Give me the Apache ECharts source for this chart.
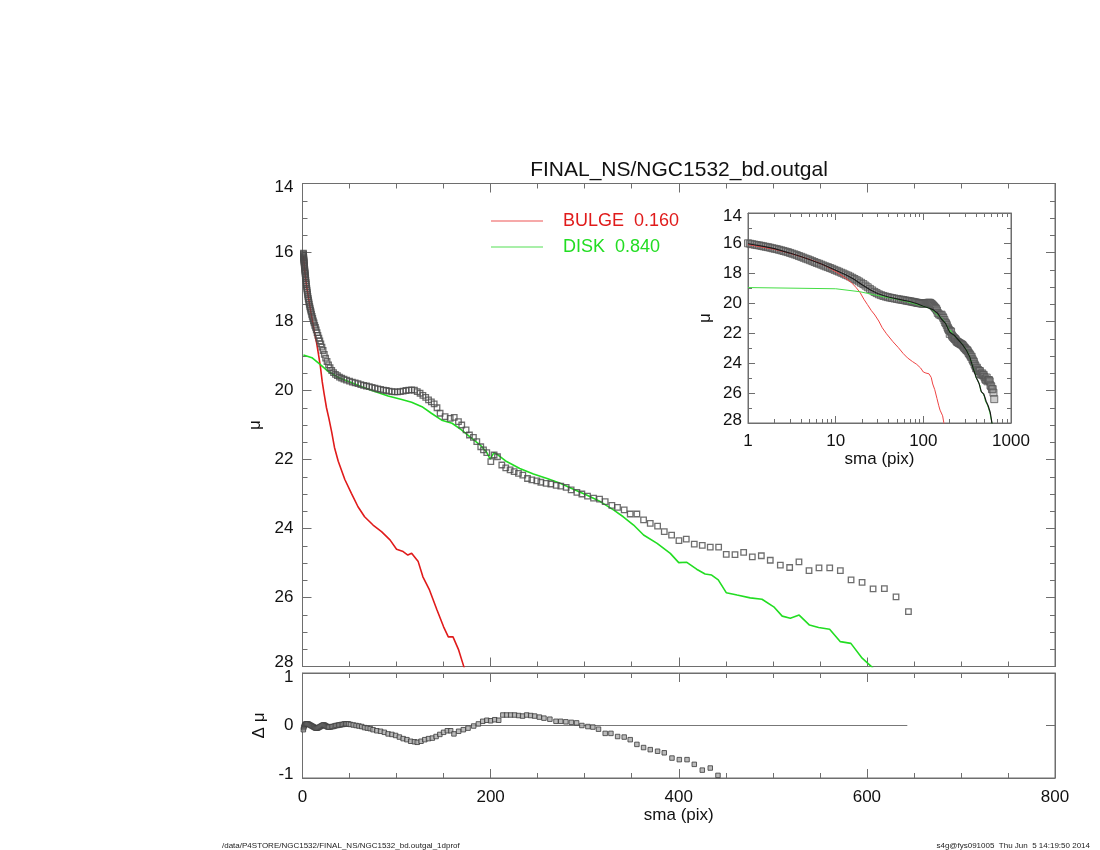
<!DOCTYPE html>
<html>
<head>
<meta charset="utf-8">
<title>NGC1532_bd.outgal</title>
<script src="https://cdn.jsdelivr.net/npm/echarts@6.0.0/dist/echarts.min.js"></script>
<style>
  html, body { margin: 0; padding: 0; background: #fff; }
  #chart { width: 1100px; height: 850px; }
</style>
</head>
<body>
<div id="chart"></div>
<script>
// observed surface brightness profile (sma in pix, mu)
const obsSma = [1.00, 1.06, 1.12, 1.19, 1.26, 1.34, 1.42, 1.50, 1.59, 1.69, 1.79, 1.90, 2.01, 2.13, 2.26, 2.40, 2.54, 2.69, 2.85, 3.02,
  3.20, 3.40, 3.60, 3.82, 4.05, 4.29, 4.55, 4.82, 5.11, 5.42, 5.74, 6.09, 6.45, 6.84, 7.25, 7.69, 8.15, 8.64, 9.15, 9.70,
  10.3, 10.9, 11.6, 12.3, 13.0, 13.8, 14.6, 15.5, 16.4, 17.4, 18.4, 19.5, 20.7, 21.9, 23.2, 24.6, 26.1, 27.7, 29.3, 31.1,
  33.0, 35.0, 37.1, 39.3, 41.6, 44.1, 46.8, 50, 53, 56, 59, 62, 65, 68, 71, 74, 77, 80, 83, 86,
  89, 92, 95, 98, 101, 104, 107, 110, 113, 116, 119, 122, 125, 128, 131, 134, 137, 140, 143,
  146.3, 151.6, 157, 161.3, 165.8, 169.3, 173.9, 177.5, 181.7, 185.3, 189.5, 192.4, 195.9, 200.2, 203.7,
  207.3, 211.9, 216.1, 220.7, 225, 229.6, 234.2, 239.2, 243.8, 249.1, 253.4, 259, 264, 269.7, 274.6, 280.3,
  285.6, 291.7, 297, 303, 309.4, 315.8, 321.8, 328.9, 334.9, 342, 348.4, 355.5, 362.6, 369.7, 377.5, 384.6,
  392.4, 400.2, 408, 416.5, 425, 433.5, 442.4, 450.5, 459.8, 469, 478.2, 487.8, 497.3, 508, 517.9, 527.8,
  538.5, 549.1, 560.5, 571.8, 583.2, 594.9, 606.6, 618.6, 631, 644.2];
const obsMu = [16.02, 16.05, 16.08, 16.11, 16.14, 16.16, 16.19, 16.22, 16.25, 16.28, 16.31, 16.35, 16.38, 16.41, 16.45, 16.49, 16.53, 16.57, 16.61, 16.66,
  16.71, 16.76, 16.81, 16.87, 16.92, 16.98, 17.04, 17.09, 17.15, 17.21, 17.27, 17.33, 17.38, 17.44, 17.5, 17.56, 17.61, 17.67, 17.72, 17.79,
  17.85, 17.91, 17.98, 18.04, 18.11, 18.17, 18.24, 18.32, 18.4, 18.48, 18.56, 18.65, 18.74, 18.84, 18.95, 19.06, 19.16, 19.26, 19.34, 19.42,
  19.48, 19.53, 19.57, 19.61, 19.64, 19.67, 19.7, 19.73, 19.76, 19.78, 19.8, 19.83, 19.85, 19.87, 19.89, 19.91, 19.93, 19.95, 19.97, 19.99,
  20.0, 20.02, 20.03, 20.04, 20.04, 20.03, 20.02, 20.0, 19.99, 19.98, 19.99, 20.03, 20.08, 20.14, 20.2, 20.27, 20.33, 20.39, 20.5,
  20.66, 20.76, 20.81, 20.78, 20.9, 21.0, 21.14, 21.29, 21.36, 21.48, 21.63, 21.72, 21.8, 22.06, 21.87,
  21.92, 22.16, 22.24, 22.3, 22.35, 22.4, 22.45, 22.55, 22.59, 22.62, 22.66, 22.69, 22.71, 22.75, 22.77, 22.81,
  22.88, 22.95, 23.0, 23.06, 23.12, 23.15, 23.22, 23.33, 23.39, 23.46, 23.58, 23.58, 23.75, 23.85, 23.93, 24.09,
  24.19, 24.35, 24.31, 24.45, 24.49, 24.54, 24.54, 24.75, 24.76, 24.69, 24.82, 24.79, 24.92, 25.06, 25.13, 24.97,
  25.22, 25.14, 25.14, 25.22, 25.49, 25.56, 25.75, 25.74, 25.98, 26.41];

// bulge component
const bulgeSma = [1, 2, 3, 4.5, 6, 7.5, 9, 11, 13, 15, 17, 19, 21, 23, 25.5, 28, 31, 34, 38, 45,
  52, 59, 66, 75, 84, 93, 100, 107, 112, 116, 123, 128, 135, 143, 150, 155, 160, 166, 171, 175];
const bulgeMu = [16.1, 16.42, 16.68, 17.0, 17.25, 17.5, 17.75, 18.05, 18.35, 18.62, 18.95, 19.3, 19.75, 20.1, 20.5, 20.8, 21.2, 21.65, 22.05, 22.58,
  22.98, 23.37, 23.66, 23.9, 24.09, 24.33, 24.6, 24.67, 24.77, 24.72, 24.96, 25.4, 25.78, 26.36, 26.85, 27.14, 27.14, 27.52, 27.96, 28.3];

// disk component
const diskSma = [1, 10, 19, 27.5, 38, 49, 63, 77, 91, 105.5, 116, 127, 137, 148, 159, 169, 180, 189, 196, 199.5,
  203.5, 208, 217, 231, 245.5, 260, 274, 288, 302, 316.5, 330.6, 341, 352, 362.6, 377, 391, 400, 408.6, 419, 428,
  435, 442, 450.5, 462, 476, 488.5, 501, 510, 518.6, 528, 539, 548.7, 560.4, 571.8, 583, 595, 604, 610];
const diskMu = [18.97, 19.05, 19.25, 19.45, 19.62, 19.74, 19.89, 20.03, 20.16, 20.26, 20.34, 20.47, 20.66, 20.86, 20.95, 21.14, 21.39, 21.58, 21.8, 21.99,
  21.8, 21.87, 22.06, 22.26, 22.42, 22.55, 22.69, 22.86, 23.03, 23.22, 23.46, 23.66, 23.9, 24.19, 24.43, 24.72, 24.99, 24.98, 25.18, 25.32,
  25.35, 25.49, 25.86, 25.93, 26.01, 26.05, 26.27, 26.54, 26.6, 26.51, 26.8, 26.87, 26.92, 27.28, 27.33, 27.76, 27.98, 28.15];

// total model (inset)
const modelSma = [1, 1.5, 2, 3, 4, 5, 7, 10, 13, 16, 20, 25, 30, 35, 40, 50, 60, 70, 85, 100,
  115, 130, 145, 160, 180, 200, 225, 250, 280, 310, 340, 370, 400, 430, 460, 490, 520, 550, 580, 610];
const modelMu = [16.05, 16.22, 16.38, 16.67, 16.9, 17.1, 17.42, 17.82, 18.12, 18.4, 18.78, 19.13, 19.37, 19.5, 19.6, 19.72, 19.82, 19.9, 20.05, 20.22,
  20.33, 20.46, 20.68, 21.05, 21.38, 21.95, 22.15, 22.45, 22.78, 23.15, 23.62, 24.35, 24.95, 25.33, 25.92, 26.08, 26.55, 26.87, 27.3, 28.1];

// residuals obs - model
const residSma = [0.9, 1.3, 1.8, 2.4, 3.0, 3.6, 4.3, 5.1, 6.0, 7.0, 8.0, 9.0, 10, 11, 12, 13, 14, 15, 16, 17,
  18, 19, 20, 21, 22, 23, 24, 25, 26, 27, 28, 29.5, 31, 32.5, 34, 35.5, 37, 38.5, 40, 41.5,
  43, 44.5, 46, 47.5, 49, 51, 54, 57, 60, 63, 66, 69, 72, 75, 79, 83, 87, 91, 95, 99,
  103, 107, 111, 115, 119, 122, 126, 130, 134, 138, 142, 146, 150, 154, 157.5, 161, 166, 171, 176, 182,
  187, 191.6, 196, 200, 204.4, 208.6, 213, 217, 221.3, 225.5, 229.8, 234, 238.3, 242.6, 246.8, 251.8, 256.7, 263, 269.5, 274.5,
  280, 285.8, 291.4, 297, 303.4, 308.7, 314.7, 321.8, 327.9, 335, 342, 348.4, 355.5, 362.6, 369.7, 377.5, 384.6, 392.8, 400.6, 408.8,
  416.5, 425, 433.5, 441.7];
const residDmu = [-0.08, -0.04, -0.01, 0.01, 0.02, 0.03, 0.03, 0.03, 0.03, 0.02, 0.01, 0.0, -0.01, -0.02, -0.03, -0.04, -0.05, -0.05, -0.05, -0.04,
  -0.03, -0.02, -0.01, 0.0, 0.01, 0.01, 0.0, -0.01, -0.02, -0.03, -0.03, -0.03, -0.02, -0.02, -0.01, 0.0, 0.0, 0.01, 0.01, 0.02,
  0.02, 0.03, 0.03, 0.03, 0.03, 0.02, 0.01, 0.0, -0.01, -0.02, -0.04, -0.05, -0.06, -0.08, -0.1, -0.11, -0.13, -0.16, -0.17, -0.19,
  -0.22, -0.25, -0.27, -0.3, -0.31, -0.32, -0.3, -0.27, -0.25, -0.24, -0.21, -0.17, -0.13, -0.1, -0.1, -0.16, -0.11, -0.08, -0.05, -0.01,
  0.03, 0.08, 0.1, 0.09, 0.11, 0.1, 0.2, 0.2, 0.2, 0.2, 0.19, 0.18, 0.2, 0.19, 0.18, 0.16, 0.14, 0.12, 0.08, 0.08,
  0.07, 0.06, 0.05, 0.0, -0.02, -0.03, -0.07, -0.15, -0.15, -0.21, -0.22, -0.27, -0.36, -0.42, -0.46, -0.49, -0.52, -0.62, -0.65, -0.65,
  -0.74, -0.85, -0.81, -0.95];

// zero reference line of the residual panel
const zeroSma = [0, 643];
const zeroDmu = [0, 0];

// inset log-axis ticks
const logMajor = [1, 10, 100, 1000];
const logMinor = [2, 3, 4, 5, 6, 7, 8, 9, 20, 30, 40, 50, 60, 70, 80, 90, 200, 300, 400, 500, 600, 700, 800, 900];

const bulgeName = 'BULGE  0.160';
const diskName = 'DISK  0.840';

const FONT = '"Liberation Sans", Arial, Helvetica, sans-serif';
const AXIS_COLOR = '#6e6e6e';
const RED = '#e01b1b';
const GREEN = '#22dd22';

function zip(xs, ys) {
  return xs.map((x, i) => [x, ys[i]]);
}

function boxAxis(extra) {
  // plain IDL-like axis: inside ticks, no split lines
  let base = {
    axisLine: { show: true, onZero: false, lineStyle: { color: AXIS_COLOR, width: 1 } },
    axisTick: { show: true, inside: true, length: 9, lineStyle: { color: AXIS_COLOR } },
    minorTick: { show: false },
    axisLabel: { show: false },
    splitLine: { show: false },
    nameTextStyle: { fontFamily: FONT, fontSize: 17, color: '#111' }
  };
  for (let key in extra) {
    if (typeof extra[key] === 'object' && !Array.isArray(extra[key]) && base[key]) {
      base[key] = Object.assign({}, base[key], extra[key]);
    } else {
      base[key] = extra[key];
    }
  }
  return base;
}

// end labels of a y axis are nudged inside the box, like IDL does
function endLabels(lo, hi, size, shift) {
  return {
    show: true, fontFamily: FONT, fontSize: size, color: '#111',
    formatter: (v) => {
      if (v === lo) return '{lo|' + v + '}';
      if (v === hi) return '{hi|' + v + '}';
      return String(v);
    },
    rich: {
      lo: { fontFamily: FONT, fontSize: size, color: '#111', padding: [shift * 2, 0, 0, 0] },
      hi: { fontFamily: FONT, fontSize: size, color: '#111', padding: [0, 0, shift * 2, 0] }
    }
  };
}

const labelStyle = { show: true, fontFamily: FONT, fontSize: 17, color: '#111' };

let chart = echarts.init(document.getElementById('chart'), null, { renderer: 'canvas' });

let option = {
  animation: false,
  backgroundColor: '#fff',
  textStyle: { fontFamily: FONT },
  grid: [
    { left: 302.5, top: 183.5, width: 752.5, height: 483, show: true, borderColor: AXIS_COLOR, borderWidth: 1, containLabel: false },
    { left: 302.5, top: 673, width: 752.5, height: 105, show: true, borderColor: AXIS_COLOR, borderWidth: 1, containLabel: false },
    { left: 748, top: 213, width: 263, height: 210, show: true, borderColor: AXIS_COLOR, borderWidth: 1, backgroundColor: '#fff', containLabel: false }
  ],
  legend: {
    orient: 'vertical',
    left: 486,
    top: 206,
    itemWidth: 52,
    itemHeight: 1.2,
    itemGap: 6,
    icon: 'rect',
    selectedMode: false,
    textStyle: { fontFamily: FONT, fontSize: 18, lineHeight: 20, padding: [0, 0, 0, 15] },
    data: [
      { name: bulgeName, itemStyle: { color: '#ee5555' }, textStyle: { color: RED } },
      { name: diskName, itemStyle: { color: '#55e055' }, textStyle: { color: GREEN } }
    ]
  },
  xAxis: [
    // main panel
    boxAxis({ type: 'value', gridIndex: 0, min: 0, max: 800, interval: 200, position: 'bottom',
      minorTick: { show: true, splitNumber: 4, length: 5, lineStyle: { color: AXIS_COLOR } } }),
    boxAxis({ type: 'value', gridIndex: 0, min: 0, max: 800, interval: 200, position: 'top',
      minorTick: { show: true, splitNumber: 4, length: 5, lineStyle: { color: AXIS_COLOR } } }),
    // residual panel
    boxAxis({ type: 'value', gridIndex: 1, min: 0, max: 800, interval: 200, position: 'bottom',
      axisLabel: Object.assign({ margin: 11 }, labelStyle),
      name: 'sma (pix)', nameLocation: 'middle', nameGap: 28,
      minorTick: { show: true, splitNumber: 4, length: 5, lineStyle: { color: AXIS_COLOR } } }),
    boxAxis({ type: 'value', gridIndex: 1, min: 0, max: 800, interval: 200, position: 'top',
      minorTick: { show: true, splitNumber: 4, length: 5, lineStyle: { color: AXIS_COLOR } } }),
    // inset, log axes
    boxAxis({ type: 'log', logBase: 10, gridIndex: 2, min: 1, max: 1000, position: 'bottom',
      axisTick: { length: 7, customValues: logMajor },
      axisLabel: Object.assign({ margin: 10, customValues: logMajor, formatter: (v) => String(v) }, labelStyle),
      name: 'sma (pix)', nameLocation: 'middle', nameGap: 28 }),
    boxAxis({ type: 'log', logBase: 10, gridIndex: 2, min: 1, max: 1000, position: 'bottom',
      axisLine: { show: false }, axisTick: { length: 4, customValues: logMinor } }),
    boxAxis({ type: 'log', logBase: 10, gridIndex: 2, min: 1, max: 1000, position: 'top',
      axisTick: { length: 7, customValues: logMajor } }),
    boxAxis({ type: 'log', logBase: 10, gridIndex: 2, min: 1, max: 1000, position: 'top',
      axisLine: { show: false }, axisTick: { length: 4, customValues: logMinor } })
  ],
  yAxis: [
    // main panel
    boxAxis({ type: 'value', gridIndex: 0, min: 14, max: 28, interval: 2, inverse: true, position: 'left',
      axisLabel: Object.assign({ margin: 9 }, endLabels(14, 28, 17, 4)),
      name: 'μ', nameLocation: 'middle', nameGap: 25,
      minorTick: { show: true, splitNumber: 4, length: 5, lineStyle: { color: AXIS_COLOR } } }),
    boxAxis({ type: 'value', gridIndex: 0, min: 14, max: 28, interval: 2, inverse: true, position: 'right',
      minorTick: { show: true, splitNumber: 4, length: 5, lineStyle: { color: AXIS_COLOR } } }),
    // residual panel
    boxAxis({ type: 'value', gridIndex: 1, min: -1, max: 1, interval: 1, position: 'left',
      axisLabel: Object.assign({ margin: 9 }, endLabels(1, -1, 17, 4)),
      name: 'Δ μ', nameLocation: 'middle', nameGap: 26 }),
    boxAxis({ type: 'value', gridIndex: 1, min: -1, max: 1, interval: 1, position: 'right' }),
    // inset
    boxAxis({ type: 'value', gridIndex: 2, min: 14, max: 28, interval: 2, inverse: true, position: 'left',
      axisTick: { length: 7 },
      axisLabel: Object.assign({ margin: 6 }, endLabels(14, 28, 17, 3)),
      name: 'μ', nameLocation: 'middle', nameGap: 34,
      minorTick: { show: true, splitNumber: 2, length: 4, lineStyle: { color: AXIS_COLOR } } }),
    boxAxis({ type: 'value', gridIndex: 2, min: 14, max: 28, interval: 2, inverse: true, position: 'right',
      axisTick: { length: 7 },
      minorTick: { show: true, splitNumber: 2, length: 4, lineStyle: { color: AXIS_COLOR } } })
  ],
  graphic: [
    { type: 'text', x: 679, y: 170, silent: true,
      style: { text: 'FINAL_NS/NGC1532_bd.outgal', fontFamily: FONT, fontSize: 21, fill: '#111', align: 'center', verticalAlign: 'middle' } },
    { type: 'text', x: 222, y: 846, silent: true,
      style: { text: '/data/P4STORE/NGC1532/FINAL_NS/NGC1532_bd.outgal_1dprof', fontFamily: FONT, fontSize: 8, fill: '#222', align: 'left', verticalAlign: 'middle' } },
    { type: 'text', x: 1090, y: 846, silent: true,
      style: { text: 's4g@fys091005  Thu Jun  5 14:19:50 2014', fontFamily: FONT, fontSize: 8, fill: '#222', align: 'right', verticalAlign: 'middle' } }
  ],
  series: [
    // main panel
    { name: bulgeName, type: 'line', xAxisIndex: 0, yAxisIndex: 0, data: zip(bulgeSma, bulgeMu),
      showSymbol: false, clip: true, z: 3, lineStyle: { color: RED, width: 1.6 }, itemStyle: { color: RED } },
    { name: diskName, type: 'line', xAxisIndex: 0, yAxisIndex: 0, data: zip(diskSma, diskMu),
      showSymbol: false, clip: true, z: 3, lineStyle: { color: GREEN, width: 1.6 }, itemStyle: { color: GREEN } },
    { name: 'obs', type: 'scatter', xAxisIndex: 0, yAxisIndex: 0, data: zip(obsSma, obsMu),
      symbol: 'rect', symbolSize: 5.5, z: 4,
      itemStyle: { color: 'rgba(255,255,255,0)', borderColor: '#4a4a4a', borderWidth: 1.3 } },
    // residual panel
    { name: 'zero', type: 'line', xAxisIndex: 2, yAxisIndex: 2, data: zip(zeroSma, zeroDmu),
      showSymbol: false, z: 2, lineStyle: { color: '#777', width: 1 } },
    { name: 'resid', type: 'scatter', xAxisIndex: 2, yAxisIndex: 2, data: zip(residSma, residDmu),
      symbol: 'rect', symbolSize: 4.5, z: 4,
      itemStyle: { color: '#aaa', borderColor: '#3a3a3a', borderWidth: 1 } },
    // inset
    { name: 'obsInset', type: 'scatter', xAxisIndex: 4, yAxisIndex: 4, data: zip(obsSma, obsMu),
      symbol: 'rect', symbolSize: 7, z: 3,
      itemStyle: { color: 'rgba(130,130,130,0.5)', borderColor: '#555', borderWidth: 1 } },
    { name: bulgeName, type: 'line', xAxisIndex: 4, yAxisIndex: 4, data: zip(bulgeSma, bulgeMu),
      showSymbol: false, clip: true, z: 4, lineStyle: { color: '#ee4444', width: 1 }, itemStyle: { color: RED } },
    { name: diskName, type: 'line', xAxisIndex: 4, yAxisIndex: 4, data: zip(diskSma, diskMu),
      showSymbol: false, clip: true, z: 4, lineStyle: { color: '#44dd44', width: 1 }, itemStyle: { color: GREEN } },
    { name: 'model', type: 'line', xAxisIndex: 4, yAxisIndex: 4, data: zip(modelSma, modelMu),
      showSymbol: false, clip: true, z: 5, lineStyle: { color: '#1a1a1a', width: 1.2 } }
  ]
};

chart.setOption(option);
</script>
</body>
</html>
